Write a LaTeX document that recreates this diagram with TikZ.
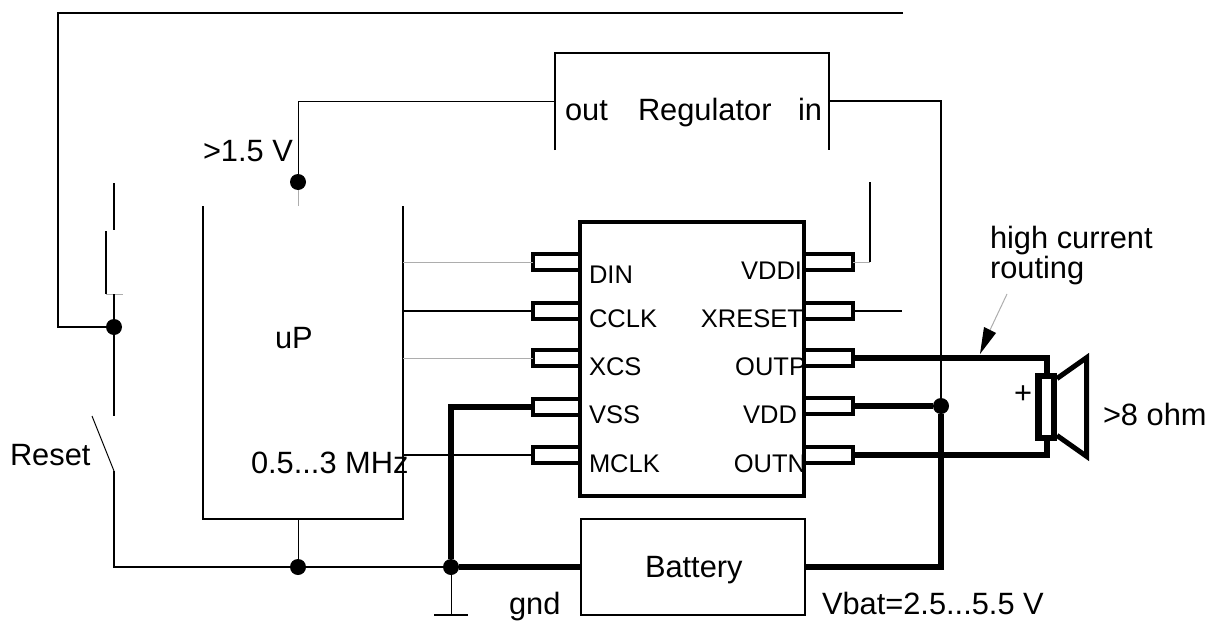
\documentclass[tikz,border=0pt]{standalone}
\usepackage{fontspec}
\setmainfont{Liberation Sans}
\definecolor{faint}{gray}{0.68}
\tikzset{
  x=1pt,y=-1pt,
  lbl/.style={inner sep=0pt,outer sep=0pt,anchor=base west,font=\fontsize{30.8}{34}\selectfont,align=left},
  pinlbl/.style={inner sep=0pt,outer sep=0pt,anchor=base west,font=\fontsize{25.5}{30}\selectfont},
  pinlblr/.style={inner sep=0pt,outer sep=0pt,anchor=base east,font=\fontsize{25.5}{30}\selectfont},
  chipbox/.style={draw,line width=4pt,inner sep=0pt,outer sep=0pt,anchor=north west,minimum width=224pt,minimum height=274pt},
  pinbox/.style={draw,line width=4pt,fill=white,inner sep=0pt,outer sep=0pt,minimum width=47pt,minimum height=15.4pt},
  thinw/.style={line width=1.6pt,line join=miter},
  wire/.style={line width=2pt},
  greyw/.style={line width=1pt,color=faint},
  heavy/.style={line width=6pt,line join=miter},
  junction/.style={circle,fill=black,inner sep=0pt,outer sep=0pt,minimum size=16pt},
  coilbox/.style={draw,line width=6.6pt,fill=white,inner sep=0pt,outer sep=0pt,minimum width=15.6pt,minimum height=62pt},
  batterybox/.style={inner sep=0pt,outer sep=0pt,anchor=north west,minimum width=224pt,minimum height=96pt},
}
\begin{document}
\begin{tikzpicture}
\useasboundingbox (0,0) rectangle (1205,621);
% named points
\coordinate (topEnd) at (903,13);
\coordinate (topCorner) at (58,13);
\coordinate (leftCorner) at (58,327);
\node[junction] (jSw) at (114,327) {};
\node[junction] (jV) at (298,182) {};
\node[junction] (jGnd1) at (298,567) {};
\node[junction] (jGnd2) at (451,567) {};
\node[junction] (jVdd) at (941,406) {};
% chip and pins
\foreach \n/\y in {din/262,cclk/311,xcs/358,vss/407,mclk/455}{
  \node[pinbox] (\n) at (556.5,\y) {};
}
\foreach \n/\y in {vddi/262,xreset/311,outp/358,vdd/406,outn/455}{
  \node[pinbox,minimum width=49pt] (\n) at (828.5,\y) {};
}
\node[chipbox] (chip) at (580,222) {};
% top feedback wire
\draw[thinw] (topEnd) -- (topCorner) -- (leftCorner) -- (jSw);
% push switch
\coordinate (swA) at (114,183); \coordinate (swB) at (114,230);
\coordinate (swC) at (106,231); \coordinate (swD) at (106,294);
\coordinate (swE) at (114,294); \coordinate (swF) at (114,416);
\coordinate (swG) at (123,294);
\draw[thinw] (swA) -- (swB);
\draw[thinw] (swC) -- (swD);
\draw[greyw] (swD) -- (swG);
\draw[wire] (swE) -- (swF);
% reset switch
\coordinate (rsA) at (92,416); \coordinate (rsB) at (114,471);
\coordinate (rsC) at (114,567);
\draw[line width=1pt] (rsA) -- (rsB);
\draw[thinw] (rsB) -- (rsC) -- (jGnd1);
\draw[thinw] (jGnd1) -- (jGnd2);
% uP
\coordinate (upTL) at (203,206); \coordinate (upBL) at (203,519);
\coordinate (upBR) at (403,519); \coordinate (upTR) at (403,206);
\coordinate (upBM) at (298,519); \coordinate (upTM) at (298,206);
\draw[thinw] (upTL) -- (upBL) -- (upBR) -- (upTR);
\draw[line width=1pt] (upBM) -- (jGnd1);
\draw[greyw] (upTM) -- (jV);
% regulator
\coordinate (regL) at (555,150); \coordinate (regLT) at (555,53);
\coordinate (regRT) at (829,53); \coordinate (regR) at (829,150);
\coordinate (regOut) at (555,101); \coordinate (regIn) at (829,101);
\coordinate (vCorner) at (298,101); \coordinate (inCorner) at (941,101);
\draw[thinw] (regL) -- (regLT) -- (regRT) -- (regR);
\draw[line width=1pt] (jV) -- (vCorner) -- (regOut);
\draw[wire] (regIn) -- (inCorner) -- (jVdd);
% uP to chip
\draw[greyw] (403,262) coordinate (upDin) -- (din.west);
\draw[wire] (403,311) coordinate (upClk) -- (cclk.west);
\draw[greyw] (403,358) coordinate (upCs) -- (xcs.west);
\draw[wire] (403,455) coordinate (upM) -- (mclk.west);
% right side low-current
\coordinate (vddiC) at (870,262); \coordinate (vddiT) at (870,182);
\coordinate (xresetE) at (902,311);
\draw[greyw] (vddi.east) -- (vddiC);
\draw[wire] (vddiC) -- (vddiT);
\draw[thinw] (xreset.east) -- (xresetE);
% battery
\node[batterybox] (bat) at (581,519) {};
\draw[thinw] (bat.north west) rectangle (bat.south east);
% ground
\coordinate (gndB) at (451,615); \coordinate (gndL) at (434,615); \coordinate (gndR) at (468,615);
\draw[line width=1pt] (jGnd2) -- (gndB);
\draw[thinw] (gndL) -- (gndR);
% heavy routes
\coordinate (vssC) at (451,407);
\draw[heavy] (vss.west) -- (vssC) -- (jGnd2);
\draw[heavy] (jGnd2) -- (bat.west |- jGnd2);
\coordinate (batR) at (805,567); \coordinate (batC) at (941,567);
\draw[heavy] (batR) -- (batC) -- (jVdd);
\draw[heavy] (vdd.east) -- (jVdd);
% speaker
\node[coilbox] (coil) at (1046,407) {};
\coordinate (opC) at (1047,358); \coordinate (onC) at (1047,455);
\draw[heavy] (outp.east) -- (opC) -- (coil.north -| opC);
\draw[heavy] (outn.east) -- (onC) -- (coil.south -| onC);
\coordinate (coneA) at (1057,378.5); \coordinate (coneB) at (1086.5,357.7);
\coordinate (coneC) at (1086.5,456.3); \coordinate (coneD) at (1057,435.5);
\draw[line width=5pt,line join=miter,miter limit=20] (coneA) -- (coneB) -- (coneC) -- (coneD);
% arrow
\coordinate (arT) at (1007,294); \coordinate (arH) at (990,330);
\coordinate (ar1) at (980,354); \coordinate (ar2) at (984,327); \coordinate (ar3) at (996,333);
\draw[greyw] (arT) -- (arH);
\fill (ar1) -- (ar2) -- (ar3) -- cycle;
% text
\node[lbl] (tOut) at (565,120) {out};
\node[lbl] (tReg) at (638,120) {Regulator};
\node[lbl] (tIn) at (798,120) {in};
\node[lbl] (tV) at (203,161) {>1.5 V};
\node[lbl] (tUp) at (275,348) {uP};
\node[lbl] (tReset) at (10,465) {Reset};
\node[lbl] (tMHz) at (251,473) {0.5...3 MHz};
\node[lbl] (tGnd) at (509,614.3) {gnd};
\node[lbl] (tBat) at (645,577) {Battery};
\node[lbl] (tVbat) at (822,614.3) {Vbat=2.5...5.5 V};
\node[lbl] (tHigh) at (990,248) {high current};
\node[lbl] (tRout) at (990,278) {routing};
\node[lbl] (tOhm) at (1103,425) {>8 ohm};
\node[lbl] (tPlus) at (1014,403) {+};
\node[pinlbl] (lDin) at (589,283) {DIN};
\node[pinlbl] (lClk) at (589,327) {CCLK};
\node[pinlbl] (lCs) at (589,375) {XCS};
\node[pinlbl] (lVss) at (589,423) {VSS};
\node[pinlbl] (lM) at (589,472) {MCLK};
\node[pinlblr] (lVddi) at (802,279) {VDDI};
\node[pinlblr] (lRes) at (803,327) {XRESET};
\node[pinlblr] (lP) at (806,375) {OUTP};
\node[pinlblr] (lVdd) at (797,423) {VDD};
\node[pinlblr] (lN) at (806,472) {OUTN};
\end{tikzpicture}
\end{document}
